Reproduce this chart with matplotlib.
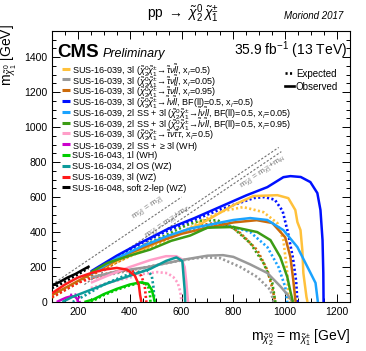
import matplotlib
matplotlib.use("Agg")
import matplotlib.pyplot as plt
from matplotlib.ticker import MultipleLocator

plt.rcParams['font.family'] = ['Liberation Sans', 'DejaVu Sans']
plt.rcParams['mathtext.fontset'] = 'custom'
plt.rcParams['mathtext.rm'] = 'Liberation Sans'
plt.rcParams['mathtext.it'] = 'Liberation Sans:italic'
plt.rcParams['mathtext.bf'] = 'Liberation Sans:bold'

# ---- data: (m_chi2 [GeV], m_chi1 [GeV]) ----
yellow_obs = ([260, 400, 550, 672, 800, 877, 970, 1012, 1039, 1047, 1059, 1066, 1070, 1082, 1086],
              [170, 270, 370, 445, 554, 606, 611, 594, 526, 457, 411, 297, 166, 29, 0])
yellow_exp = ([260, 400, 550, 700, 760, 838, 916, 970, 993, 1008, 1012, 1018],
              [165, 260, 360, 480, 520, 543, 514, 451, 354, 166, 29, 0])
gray_obs = ([250, 350, 470, 600, 700, 760, 800, 865, 931, 981, 1010, 1028],
            [140, 175, 200, 240, 265, 268, 258, 215, 166, 90, 40, 0])
gray_exp = ([250, 350, 450, 550, 650, 700, 749, 827, 892, 943, 955],
            [135, 165, 195, 225, 250, 255, 251, 200, 143, 69, 0])
orange_obs = ([100, 200, 300, 400, 500, 600, 700, 800, 890, 950, 1000, 1020, 1031, 1040],
              [40, 120, 200, 280, 340, 390, 425, 455, 468, 452, 370, 257, 126, 0])
orange_exp = ([100, 200, 300, 400, 500, 600, 680, 738, 790, 827, 892, 931, 950, 962],
              [25, 110, 190, 265, 335, 400, 440, 455, 430, 394, 297, 183, 80, 0])
blue_obs = ([250, 350, 450, 550, 650, 750, 850, 931, 993, 1020, 1060, 1097, 1124, 1136, 1144, 1147, 1148],
            [175, 265, 345, 420, 480, 545, 610, 657, 714, 720, 715, 686, 623, 526, 354, 166, 0])
blue_exp = ([250, 350, 450, 550, 650, 750, 830, 880, 920, 960, 990, 1010, 1030, 1042, 1047],
            [170, 260, 340, 410, 470, 530, 570, 595, 600, 585, 520, 400, 250, 120, 0])
lblue_obs = ([250, 350, 450, 550, 633, 700, 800, 865, 931, 993, 1047, 1086, 1117, 1126],
             [160, 250, 320, 380, 420, 440, 469, 480, 469, 411, 314, 200, 109, 0])
lblue_exp = ([250, 350, 450, 550, 650, 720, 776, 865, 931, 974, 1000, 1008],
             [160, 245, 315, 380, 420, 440, 440, 400, 314, 200, 86, 0])
green_obs = ([250, 313, 400, 479, 560, 633, 700, 800, 892, 943, 981, 1008, 1020, 1030],
             [170, 223, 265, 300, 350, 380, 425, 429, 400, 354, 257, 143, 60, 0])
green_exp = ([250, 350, 450, 550, 620, 672, 738, 800, 865, 916, 950, 962],
             [165, 250, 320, 390, 440, 465, 468, 423, 337, 223, 109, 0])
pink_obs = ([250, 330, 400, 480, 540, 580, 600, 612, 618, 622, 625],
            [110, 160, 200, 240, 262, 262, 245, 200, 120, 50, 0])
pink_exp = ([250, 330, 400, 450, 506, 545, 568, 585, 595, 600],
            [80, 115, 140, 160, 171, 165, 143, 110, 60, 0])
magenta_obs = ([118, 135, 155, 175, 190, 198, 200],
               [0, 12, 25, 33, 30, 15, 0])
magenta_exp = ([170, 190, 203, 207],
               [40, 42, 30, 0])
lgreen_obs = ([225, 260, 300, 350, 400, 440, 470, 485, 492, 497],
              [0, 15, 45, 75, 100, 112, 105, 70, 30, 0])
lgreen_exp = ([250, 300, 350, 400, 450, 470, 478, 480],
              [0, 40, 70, 95, 112, 95, 50, 0])
teal_obs = ([140, 180, 250, 320, 400, 480, 540, 580, 603, 607, 612, 614],
            [0, 30, 70, 110, 150, 190, 235, 255, 235, 160, 70, 0])
teal_exp = ([180, 230, 300, 380, 440, 470, 485, 492, 495],
            [0, 40, 100, 150, 175, 180, 150, 80, 0])
red_obs = ([100, 150, 200, 250, 300, 350, 390, 420, 435, 440, 445],
           [50, 100, 140, 165, 185, 195, 185, 150, 100, 40, 0])
red_exp = ([100, 150, 200, 260, 320, 380, 420, 445, 458, 462, 464],
           [30, 70, 110, 140, 165, 180, 175, 150, 90, 30, 0])
black_obs = ([100, 130, 160, 190, 220, 245],
             [95, 115, 140, 160, 185, 205])
black_exp = ([100, 130, 160, 190, 220, 240],
             [80, 100, 125, 150, 175, 195])

colors = ['#ffc13b', '#999999', '#cc6a0a', '#0010ff', '#1aa3ff', '#3c9c14',
          '#ff9ec8', '#cc00cc', '#00cc00', '#0b9a9a', '#ff1a1a', '#000000']
curves = [(yellow_obs, yellow_exp), (gray_obs, gray_exp), (orange_obs, orange_exp),
          (blue_obs, blue_exp), (lblue_obs, lblue_exp), (green_obs, green_exp),
          (pink_obs, pink_exp), (magenta_obs, magenta_exp), (lgreen_obs, lgreen_exp),
          (teal_obs, teal_exp), (red_obs, red_exp), (black_obs, black_exp)]

cc = r'$\tilde{\chi}^0_2\tilde{\chi}^{\pm}_1\!\rightarrow\!'
labels = [
    'SUS-16-039, 3l (' + cc + r'\tilde{\tau}\nu\tilde{l}l$, x$_l$=0.5)',
    'SUS-16-039, 3l (' + cc + r'\tilde{\tau}\nu\tilde{l}l$, x$_l$=0.05)',
    'SUS-16-039, 3l (' + cc + r'\tilde{\tau}\nu\tilde{l}l$, x$_l$=0.95)',
    'SUS-16-039, 3l (' + cc + r'\tilde{l}\nu\tilde{l}l$, BF(ll)=0.5, x$_l$=0.5)',
    'SUS-16-039, 2l SS + 3l (' + cc + r'\tilde{l}\nu\tilde{l}l$, BF(ll)=0.5, x$_l$=0.05)',
    'SUS-16-039, 2l SS + 3l (' + cc + r'\tilde{l}\nu\tilde{l}l$, BF(ll)=0.5, x$_l$=0.95)',
    'SUS-16-039, 3l (' + cc + r'\tilde{\tau}\nu\tilde{\tau}\tau$, x$_l$=0.5)',
    r'SUS-16-039, 2l SS + $\geq$3l (WH)',
    'SUS-16-043, 1l (WH)',
    'SUS-16-034, 2l OS (WZ)',
    'SUS-16-039, 3l (WZ)',
    'SUS-16-048, soft 2-lep (WZ)',
]

# kinematic lines: m_chi1 = m_chi2 - offset
diag_offsets = [0, 91, 125]
diag_ends = [600, 975, 985]
diag_labels = [r'm$_{\tilde{\chi}^0_2}$ = m$_{\tilde{\chi}^0_1}$',
               r'm$_{\tilde{\chi}^0_2}$ = m$_{\tilde{\chi}^0_1}$+m$_Z$',
               r'm$_{\tilde{\chi}^0_2}$ = m$_{\tilde{\chi}^0_1}$+m$_H$']
diag_label_pos = [(470, 535), (545, 455), (915, 745)]

W, H = 366, 351
fig = plt.figure(figsize=(W / 100, H / 100), dpi=100)
ax = fig.add_axes([52 / W, 1 - 302 / H, 298 / W, 271 / H])

for off, end in zip(diag_offsets, diag_ends):
    x0 = 100 + off
    ax.plot([x0, end], [x0 - off, end - off], color='#707070', lw=0.8,
            linestyle=(0, (2, 1.6)), zorder=1)
for lab, (lx, ly) in zip(diag_labels, diag_label_pos):
    ax.text(lx, ly, lab, fontsize=6, color='#707070', rotation=34,
            ha='center', va='center', rotation_mode='anchor')

for (obs, exp), c in zip(curves, colors):
    ax.plot(exp[0], exp[1], color=c, lw=1.9, linestyle=(0, (0.8, 0.9)), zorder=3)
    ax.plot(obs[0], obs[1], color=c, lw=1.8, zorder=4, solid_capstyle='butt')

ax.set_xlim(100, 1250)
ax.set_ylim(0, 1550)
ax.xaxis.set_major_locator(MultipleLocator(200))
ax.xaxis.set_minor_locator(MultipleLocator(50))
ax.yaxis.set_major_locator(MultipleLocator(200))
ax.yaxis.set_minor_locator(MultipleLocator(50))
ax.tick_params(which='both', direction='in', top=True, right=True, labelsize=7.5, width=0.7)
ax.tick_params(which='major', length=6)
ax.tick_params(which='minor', length=3)
for s in ax.spines.values():
    s.set_linewidth(0.8)

# legend drawn by hand so rows are evenly spaced
def ax_xy(px, py):
    return (px - 52) / 298, (302 - py) / 271

for i, (lab, c) in enumerate(zip(labels, colors)):
    py = 68.5 + i * 10.8
    x0, y = ax_xy(62, py)
    x1, _ = ax_xy(70, py)
    xt, _ = ax_xy(72, py)
    ax.plot([x0, x1], [y, y], color=c, lw=2.2, transform=ax.transAxes, clip_on=False,
            solid_capstyle='butt')
    ax.text(xt, y, lab, fontsize=6.5, transform=ax.transAxes, va='center_baseline', ha='left')

for j, (lab, ls) in enumerate([('Expected', (0, (0.8, 0.9))), ('Observed', '-')]):
    py = 73 + j * 13
    x0, y = ax_xy(285, py)
    x1, _ = ax_xy(294, py)
    xt, _ = ax_xy(296, py)
    ax.plot([x0, x1], [y, y], color='black', lw=1.9, linestyle=ls, transform=ax.transAxes)
    ax.text(xt, y, lab, fontsize=7, transform=ax.transAxes, va='center_baseline', ha='left')

x, y = ax_xy(57, 57)
ax.text(x, y, 'CMS', fontsize=13.5, fontweight='bold', transform=ax.transAxes, va='baseline')
x, y = ax_xy(103, 57)
ax.text(x, y, 'Preliminary', fontsize=9, style='italic', transform=ax.transAxes, va='baseline')
x, y = ax_xy(347, 55)
ax.text(x, y, r'35.9 fb$^{-1}$ (13 TeV)', fontsize=10, transform=ax.transAxes,
        va='baseline', ha='right')

fig.text(183 / W, 1 - 18 / H, r'pp $\rightarrow$ $\tilde{\chi}^0_2\,\tilde{\chi}^{\pm}_1$',
         fontsize=10, ha='center', va='baseline')
fig.text(343 / W, 1 - 19 / H, 'Moriond 2017', fontsize=7, style='italic',
         ha='right', va='baseline')
fig.text(350 / W, 1 - 341 / H, r'm$_{\tilde{\chi}^0_2}$ = m$_{\tilde{\chi}^{\pm}_1}$ [GeV]',
         fontsize=10, ha='right', va='baseline')
fig.text(9 / W, 1 - 24 / H, r'm$_{\tilde{\chi}^0_1}$ [GeV]', fontsize=10, rotation=90,
         ha='center', va='top')

fig.savefig('out.png', dpi=100)
